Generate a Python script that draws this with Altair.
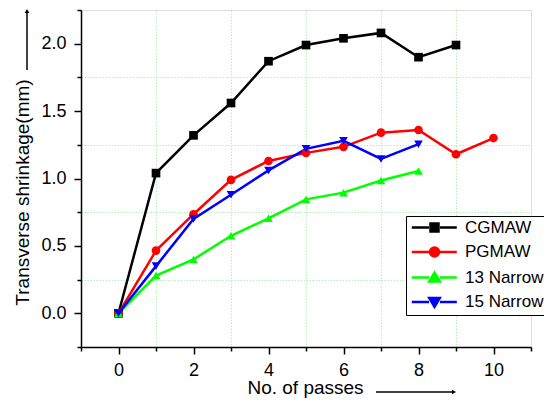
import altair as alt
import pandas as pd

# ---- data ----
series_names = ["CGMAW", "PGMAW", "13 Narrow", "15 Narrow"]
series_colors = ["#000000", "#ff0000", "#00ff00", "#0000ff"]
series_shapes = ["square", "circle", "triangle-up", "triangle-down"]

cgmaw_x = [0, 1, 2, 3, 4, 5, 6, 7, 8, 9]
cgmaw_y = [0.00, 1.04, 1.32, 1.56, 1.87, 1.99, 2.04, 2.08, 1.90, 1.99]
pgmaw_x = [0, 1, 2, 3, 4, 5, 6, 7, 8, 9, 10]
pgmaw_y = [0.00, 0.465, 0.735, 0.99, 1.13, 1.19, 1.235, 1.34, 1.36, 1.18, 1.30]
n13_x = [0, 1, 2, 3, 4, 5, 6, 7, 8]
n13_y = [0.00, 0.28, 0.40, 0.575, 0.705, 0.845, 0.895, 0.985, 1.055]
n15_x = [0, 1, 2, 3, 4, 5, 6, 7, 8]
n15_y = [0.00, 0.35, 0.70, 0.88, 1.06, 1.22, 1.28, 1.145, 1.255]

x_major = [0, 2, 4, 6, 8, 10]
x_minor = [-1, 1, 3, 5, 7, 9, 11]
y_major = [0.0, 0.5, 1.0, 1.5, 2.0]
y_minor = [-0.25, 0.25, 0.75, 1.25, 1.75, 2.25]

rows = []
for name, col, shp, xs, ys in zip(series_names, series_colors, series_shapes,
                                  [cgmaw_x, pgmaw_x, n13_x, n15_x],
                                  [cgmaw_y, pgmaw_y, n13_y, n15_y]):
    for xv, yv in zip(xs, ys):
        rows.append({"x": xv, "y": yv, "series": name, "col": col, "shp": shp})
df = pd.DataFrame(rows)

FONT = "Liberation Sans"
W, H = 450, 337

# legend symbols: line - marker - line
seg = "M-1.14,0H2.3M4.5,0H7.86"
legend_paths = [
    seg + "M2.6,-0.8H4.2V0.8H2.6Z",
    seg + "M2.5,0A0.9,0.9 0 1,1 4.3,0A0.9,0.9 0 1,1 2.5,0Z",
    seg + "M3.4,-0.95L4.45,0.8L2.35,0.8Z",
    seg + "M3.4,0.95L4.45,-0.8L2.35,-0.8Z",
]

xscale = alt.Scale(domain=[-1, 11], nice=False, zero=False)
yscale = alt.Scale(domain=[-0.25, 2.25], nice=False, zero=False)

major_x_axis = alt.Axis(orient="bottom", values=x_major, title="No. of passes",
                        grid=False, tickSize=7, labelPadding=7, labelFontSize=18,
                        titleFontSize=19, titleFontWeight="normal", titleY=46,
                        titleBaseline="alphabetic", titleX=224,
                        domainColor="black", domainWidth=1.5, tickColor="black",
                        tickWidth=1.5, labelColor="black", titleColor="black")
major_y_axis = alt.Axis(orient="left", values=y_major, title="Transverse shrinkage(mm)",
                        format=".1f", grid=False, tickSize=7, labelPadding=8,
                        labelFontSize=18, titleFontSize=19, titleFontWeight="normal",
                        titleX=-49, titleY=182, domainColor="black", domainWidth=1.5,
                        tickColor="black", tickWidth=1.5, labelColor="black",
                        titleColor="black")
minor_x_axis = alt.Axis(orient="bottom", values=x_minor, labels=False, title=None,
                        domain=False, tickSize=4, tickColor="black", tickWidth=1.5,
                        grid=True, gridColor="#b4f0b4", gridDash=[1.5, 1.5], gridWidth=1,
                        gridOpacity=alt.condition("datum.value > 10 || datum.value < 0",
                                                  alt.value(0), alt.value(1)))
minor_y_axis = alt.Axis(orient="left", values=y_minor, labels=False, title=None,
                        domain=False, tickSize=4, tickColor="black", tickWidth=1.5,
                        grid=True, gridColor="#b4f0b4", gridDash=[1.5, 1.5], gridWidth=1,
                        gridOpacity=alt.condition("datum.value > 2 || datum.value < 0",
                                                  alt.value(0), alt.value(1)))

base = alt.Chart(df)

lines = base.mark_line(strokeWidth=2.5).encode(
    x=alt.X("x:Q", scale=xscale, axis=major_x_axis),
    y=alt.Y("y:Q", scale=yscale, axis=major_y_axis),
    color=alt.Color("col:N", scale=None),
    detail="series:N",
)

points = base.mark_point(filled=True, opacity=1, size=75).encode(
    x=alt.X("x:Q", scale=xscale, axis=minor_x_axis),
    y=alt.Y("y:Q", scale=yscale, axis=minor_y_axis),
    color=alt.Color("col:N", scale=None),
    shape=alt.Shape("shp:N", scale=None),
)

leg = alt.Legend(orient="none", legendX=325, legendY=206, title=None,
                 strokeColor="black", fillColor="white", padding=3,
                 symbolSize=100, symbolStrokeWidth=2.5, labelFont=FONT,
                 labelFontSize=17, labelColor="black", labelOffset=39,
                 rowPadding=5.5, cornerRadius=0)
legend_layer = base.mark_point(filled=True, opacity=1).encode(
    x=alt.X("x:Q", scale=xscale, axis=None),
    y=alt.Y("y:Q", scale=yscale, axis=None),
    fill=alt.Fill("series:N", scale=alt.Scale(domain=series_names, range=series_colors), legend=leg),
    stroke=alt.Stroke("series:N", scale=alt.Scale(domain=series_names, range=series_colors), legend=leg),
    shape=alt.Shape("series:N", scale=alt.Scale(domain=series_names, range=legend_paths), legend=leg),
).transform_filter("false")

one = pd.DataFrame({"k": [0]})
y_arrow = alt.Chart(one).mark_rule(color="black", strokeWidth=1.5).encode(
    x=alt.value(-54), y=alt.value(60), y2=alt.value(2))
y_head = alt.Chart(one).mark_point(shape="triangle-up", filled=True, color="black",
                                   opacity=1, size=22).encode(
    x=alt.value(-54), y=alt.value(1))
x_arrow = alt.Chart(one).mark_rule(color="black", strokeWidth=1.5).encode(
    x=alt.value(295), x2=alt.value(372), y=alt.value(382))
x_head = alt.Chart(one).mark_point(shape="triangle-right", filled=True, color="black",
                                   opacity=1, size=22).encode(
    x=alt.value(373), y=alt.value(382))

chart = alt.layer(lines, points, legend_layer, y_arrow, y_head, x_arrow, x_head).resolve_axis(
    x="independent", y="independent"
).properties(
    width=W, height=H,
    padding={"left": 73, "top": 2, "right": 13, "bottom": 53},
    autosize=alt.AutoSizeParams(type="none"),
).configure_view(stroke=None).configure_axis(
    labelFont=FONT, titleFont=FONT
).configure(background="white")

chart.save("out.html", embed_options={"renderer": "svg", "actions": False})
